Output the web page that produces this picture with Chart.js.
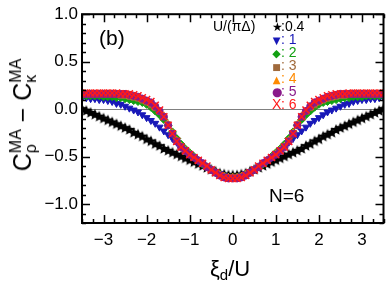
<!DOCTYPE html>
<html>
<head>
<meta charset="utf-8">
<script src="https://cdn.jsdelivr.net/npm/chart.js@4.4.1/dist/chart.umd.min.js"></script>
<style>
    body { margin: 0; background: #fff; }
    #wrap { position: relative; width: 390px; height: 282px; font-family: "Liberation Sans", Arial, sans-serif; color: #000; }
    #c { position: absolute; left: 0; top: 0; }
    .t { position: absolute; white-space: nowrap; line-height: 1; }
    #ytitle { left: 23px; top: 115px; font-size: 25px; transform: translate(-50%, -50%) rotate(-90deg); }
    .ss { display: inline-block; font-size: 16px; line-height: 15px; vertical-align: -5px; text-align: left; }
    .ss span { display: block; }
    #xtitle { left: 210px; top: 258px; font-size: 22px; }
    #xtitle sub { font-size: 15px; vertical-align: -4px; }
    #panel { left: 99px; top: 27px; font-size: 21px; }
    #nlab { left: 269px; top: 186px; font-size: 19px; }
    .leg { position: absolute; white-space: nowrap; font-size: 14px; line-height: 14px; height: 14px; }
    .leg .g { font-family: "DejaVu Sans", sans-serif; display: inline-block; width: 9px; text-align: center; }
</style>
</head>
<body>
<div id="wrap">
    <canvas id="c" width="390" height="282"></canvas>
    <div class="t" id="ytitle">C<span class="ss"><span>MA</span><span>ρ</span></span> − C<span class="ss"><span>MA</span><span>κ</span></span></div>
    <div class="t" id="xtitle">ξ<sub>d</sub>/U</div>
    <div class="t" id="panel">(b)</div>
    <div class="t" id="nlab">N=6</div>
    <div class="leg" style="left:213px; top:19px;">U/(πΔ)</div>
    <div id="legend"></div>
</div>
<script>
// x positions (xi_d / U)
const xVals = [
    -3.5, -3.4, -3.3, -3.2, -3.1, -3.0, -2.9, -2.8, -2.7, -2.6,
    -2.5, -2.4, -2.3, -2.2, -2.1, -2.0, -1.9, -1.8, -1.7, -1.6,
    -1.5, -1.4, -1.3, -1.2, -1.1, -1.0, -0.9, -0.8, -0.7, -0.6,
    -0.5, -0.4, -0.3, -0.2, -0.1,
    0.0,
    0.1, 0.2, 0.3, 0.4, 0.5,
    0.6, 0.7, 0.8, 0.9, 1.0, 1.1, 1.2, 1.3, 1.4, 1.5,
    1.6, 1.7, 1.8, 1.9, 2.0, 2.1, 2.2, 2.3, 2.4, 2.5,
    2.6, 2.7, 2.8, 2.9, 3.0, 3.1, 3.2, 3.3, 3.4, 3.5
];

// C_rho - C_kappa for each U/(pi Delta)
const u04 = [
    0.00, -0.02, -0.04, -0.06, -0.08, -0.10, -0.12, -0.14, -0.16, -0.18,
    -0.20, -0.22, -0.25, -0.27, -0.29, -0.32, -0.34, -0.37, -0.39, -0.42,
    -0.44, -0.46, -0.48, -0.50, -0.52, -0.54, -0.56, -0.58, -0.60, -0.62,
    -0.64, -0.66, -0.68, -0.69, -0.70,
    -0.70,
    -0.70, -0.69, -0.68, -0.66, -0.64,
    -0.62, -0.60, -0.58, -0.56, -0.54, -0.52, -0.50, -0.48, -0.46, -0.44,
    -0.42, -0.39, -0.37, -0.34, -0.32, -0.29, -0.27, -0.25, -0.22, -0.20,
    -0.18, -0.16, -0.14, -0.12, -0.10, -0.08, -0.06, -0.04, -0.02, 0.00
];
const u1 = [
    0.12, 0.12, 0.11, 0.11, 0.10, 0.10, 0.09, 0.08, 0.06, 0.05,
    0.03, 0.01, -0.01, -0.03, -0.06, -0.09, -0.12, -0.15, -0.19, -0.23,
    -0.27, -0.31, -0.35, -0.39, -0.43, -0.47, -0.51, -0.55, -0.58, -0.61,
    -0.64, -0.66, -0.68, -0.70, -0.71,
    -0.71,
    -0.71, -0.70, -0.68, -0.66, -0.64,
    -0.61, -0.58, -0.55, -0.51, -0.47, -0.43, -0.39, -0.35, -0.31, -0.27,
    -0.23, -0.19, -0.15, -0.12, -0.09, -0.06, -0.03, -0.01, 0.01, 0.03,
    0.05, 0.06, 0.08, 0.09, 0.10, 0.10, 0.11, 0.11, 0.12, 0.12
];
const u2 = [
    0.14, 0.14, 0.14, 0.14, 0.14, 0.13, 0.13, 0.13, 0.12, 0.12,
    0.11, 0.10, 0.09, 0.08, 0.07, 0.05, 0.02, -0.02, -0.06, -0.11,
    -0.17, -0.24, -0.31, -0.37, -0.42, -0.46, -0.50, -0.54, -0.58, -0.61,
    -0.64, -0.67, -0.69, -0.71, -0.72,
    -0.72,
    -0.72, -0.71, -0.69, -0.67, -0.64,
    -0.61, -0.58, -0.54, -0.50, -0.46, -0.42, -0.37, -0.31, -0.24, -0.17,
    -0.11, -0.06, -0.02, 0.02, 0.05, 0.07, 0.08, 0.09, 0.10, 0.11,
    0.12, 0.12, 0.13, 0.13, 0.13, 0.14, 0.14, 0.14, 0.14, 0.14
];
const u3 = [
    0.15, 0.15, 0.15, 0.15, 0.15, 0.15, 0.15, 0.15, 0.15, 0.14,
    0.14, 0.13, 0.12, 0.11, 0.09, 0.07, 0.04, 0.01, -0.03, -0.08,
    -0.16, -0.25, -0.33, -0.39, -0.43, -0.47, -0.51, -0.54, -0.58, -0.61,
    -0.64, -0.67, -0.69, -0.71, -0.72,
    -0.72,
    -0.72, -0.71, -0.69, -0.67, -0.64,
    -0.61, -0.58, -0.54, -0.51, -0.47, -0.43, -0.39, -0.33, -0.25, -0.16,
    -0.08, -0.03, 0.01, 0.04, 0.07, 0.09, 0.11, 0.12, 0.13, 0.14,
    0.14, 0.15, 0.15, 0.15, 0.15, 0.15, 0.15, 0.15, 0.15, 0.15
];
const u4 = [
    0.16, 0.16, 0.16, 0.16, 0.16, 0.16, 0.16, 0.16, 0.16, 0.15,
    0.15, 0.14, 0.13, 0.12, 0.10, 0.08, 0.06, 0.02, -0.02, -0.07,
    -0.16, -0.25, -0.33, -0.39, -0.43, -0.47, -0.51, -0.54, -0.58, -0.61,
    -0.64, -0.67, -0.69, -0.71, -0.72,
    -0.72,
    -0.72, -0.71, -0.69, -0.67, -0.64,
    -0.61, -0.58, -0.54, -0.51, -0.47, -0.43, -0.39, -0.33, -0.25, -0.16,
    -0.07, -0.02, 0.02, 0.06, 0.08, 0.10, 0.12, 0.13, 0.14, 0.15,
    0.15, 0.16, 0.16, 0.16, 0.16, 0.16, 0.16, 0.16, 0.16, 0.16
];
const u5 = [
    0.16, 0.16, 0.16, 0.16, 0.16, 0.16, 0.16, 0.16, 0.16, 0.16,
    0.16, 0.15, 0.14, 0.13, 0.11, 0.09, 0.07, 0.03, -0.02, -0.08,
    -0.17, -0.26, -0.34, -0.40, -0.44, -0.48, -0.51, -0.54, -0.57, -0.61,
    -0.64, -0.67, -0.70, -0.72, -0.73,
    -0.73,
    -0.73, -0.72, -0.70, -0.67, -0.64,
    -0.61, -0.57, -0.54, -0.51, -0.48, -0.44, -0.40, -0.34, -0.26, -0.17,
    -0.08, -0.02, 0.03, 0.07, 0.09, 0.11, 0.13, 0.14, 0.15, 0.16,
    0.16, 0.16, 0.16, 0.16, 0.16, 0.16, 0.16, 0.16, 0.16, 0.16
];
const u6 = [
    0.17, 0.17, 0.17, 0.17, 0.17, 0.17, 0.17, 0.17, 0.17, 0.16,
    0.16, 0.16, 0.15, 0.14, 0.12, 0.10, 0.08, 0.04, -0.01, -0.08,
    -0.17, -0.26, -0.34, -0.40, -0.44, -0.48, -0.51, -0.54, -0.57, -0.60,
    -0.64, -0.67, -0.70, -0.72, -0.73,
    -0.73,
    -0.73, -0.72, -0.70, -0.67, -0.64,
    -0.60, -0.57, -0.54, -0.51, -0.48, -0.44, -0.40, -0.34, -0.26, -0.17,
    -0.08, -0.01, 0.04, 0.08, 0.10, 0.12, 0.14, 0.15, 0.16, 0.16,
    0.16, 0.17, 0.17, 0.17, 0.17, 0.17, 0.17, 0.17, 0.17, 0.17
];

const uLabels = ['0.4', '1', '2', '3', '4', '5', '6'];
const legendGlyphs = ['★', '▼', '◆', '■', '▲', '●', 'X'];
const glyphSizes = [12, 10, 11, 9, 10, 12, 14];
const colors = ['#000000', '#1818b8', '#12a012', '#a06a3c', '#ff8a00', '#8a1a8a', '#ff1a1a'];

// labelled tick values
const xTicks = [-3, -2, -1, 0, 1, 2, 3];
const yTicks = [-1.0, -0.5, 0.0, 0.5, 1.0];

// filled star marker for the U=0.4 curve
function makeStar(color, r) {
    const size = Math.ceil(r * 2) + 2;
    const cv = document.createElement('canvas');
    cv.width = size; cv.height = size;
    const g = cv.getContext('2d');
    g.fillStyle = color;
    g.beginPath();
    for (let k = 0; k < 10; k++) {
        const rad = k % 2 === 0 ? r : r * 0.45;
        const a = -Math.PI / 2 + k * Math.PI / 5;
        const px = size / 2 + rad * Math.cos(a);
        const py = size / 2 + rad * Math.sin(a);
        if (k === 0) g.moveTo(px, py); else g.lineTo(px, py);
    }
    g.closePath();
    g.fill();
    return cv;
}

const toPts = vals => xVals.map((x, i) => ({ x: x, y: vals[i] }));

const datasets = [
    { data: toPts(u04), pointStyle: makeStar(colors[0], 6), order: 7 },
    { data: toPts(u1), pointStyle: 'triangle', rotation: 180, pointRadius: 4, order: 6 },
    { data: toPts(u2), pointStyle: 'rectRot', pointRadius: 4, order: 5 },
    { data: toPts(u3), pointStyle: 'rect', pointRadius: 3.5, order: 4 },
    { data: toPts(u4), pointStyle: 'triangle', pointRadius: 4, order: 3 },
    { data: toPts(u5), pointStyle: 'circle', pointRadius: 3.6, order: 2 },
    { data: toPts(u6), pointStyle: 'crossRot', pointRadius: 5, borderWidth: 1.5, order: 1 }
].map((d, i) => Object.assign({
    label: uLabels[i],
    showLine: false,
    backgroundColor: colors[i],
    borderColor: colors[i],
    borderWidth: 1,
    pointRadius: 4
}, d));

// legend block inside the plot
const legendBox = document.getElementById('legend');
uLabels.forEach((u, i) => {
    const el = document.createElement('div');
    el.className = 'leg';
    el.style.left = '272px';
    el.style.top = (19 + i * 13) + 'px';
    el.style.color = colors[i];
    const glyphFont = i === 6 ? 'font-family:Liberation Sans, Arial;' : '';
    el.innerHTML = '<span class="g" style="font-size:' + glyphSizes[i] + 'px;' + glyphFont + '">' +
        legendGlyphs[i] + '</span>' + (i === 0 ? ':' : ': ') + u;
    legendBox.appendChild(el);
});

const minus = s => s.replace('-', '\u2212');

const frame = {
    id: 'frame',
    beforeDatasetsDraw(chart) {
        const { ctx, chartArea: a, scales: { y } } = chart;
        const y0 = Math.round(y.getPixelForValue(0)) + 0.5;
        ctx.save();
        ctx.strokeStyle = '#808080';
        ctx.lineWidth = 1;
        ctx.beginPath();
        ctx.moveTo(a.left, y0);
        ctx.lineTo(a.right, y0);
        ctx.stroke();
        ctx.restore();
    },
    afterDraw(chart) {
        const { ctx, chartArea: a, scales: { x, y } } = chart;
        ctx.save();
        ctx.strokeStyle = '#000';
        ctx.lineWidth = 1.5;
        ctx.beginPath();
        for (let k = -14; k <= 14; k++) {
            const px = Math.round(x.getPixelForValue(k * 0.25)) + 0.5;
            const len = k % 4 === 0 ? 8 : 4;
            ctx.moveTo(px, a.bottom); ctx.lineTo(px, a.bottom - len);
            ctx.moveTo(px, a.top); ctx.lineTo(px, a.top + len);
        }
        for (let k = -12; k <= 10; k++) {
            const py = Math.round(y.getPixelForValue(k * 0.1)) + 0.5;
            const len = k % 5 === 0 ? 8 : 4;
            ctx.moveTo(a.left, py); ctx.lineTo(a.left + len, py);
            ctx.moveTo(a.right, py); ctx.lineTo(a.right - len, py);
        }
        ctx.stroke();
        ctx.lineWidth = 2;
        ctx.strokeRect(a.left, a.top, a.right - a.left, a.bottom - a.top);
        ctx.restore();
    }
};

new Chart(document.getElementById('c'), {
    type: 'scatter',
    data: { datasets: datasets },
    options: {
        responsive: false,
        animation: false,
        layout: { padding: { top: 13, right: 2, left: 0, bottom: 0 } },
        plugins: { legend: { display: false }, tooltip: { enabled: false } },
        scales: {
            x: {
                min: -3.5, max: 3.5,
                afterFit: s => { s.height = 59; },
                afterBuildTicks: s => { s.ticks = xTicks.map(v => ({ value: v })); },
                grid: { display: false, drawTicks: false },
                border: { display: false },
                ticks: {
                    padding: 7, color: '#000',
                    font: { family: 'Liberation Sans, Arial', size: 17 },
                    callback: v => minus(String(v))
                }
            },
            y: {
                min: -1.2, max: 1.0,
                afterFit: s => { s.width = 82; },
                afterBuildTicks: s => { s.ticks = yTicks.map(v => ({ value: v })); },
                grid: { display: false, drawTicks: false },
                border: { display: false },
                ticks: {
                    padding: 4, color: '#000',
                    font: { family: 'Liberation Sans, Arial', size: 17 },
                    callback: v => minus(Number(v).toFixed(1))
                }
            }
        }
    },
    plugins: [frame]
});
</script>
</body>
</html>
